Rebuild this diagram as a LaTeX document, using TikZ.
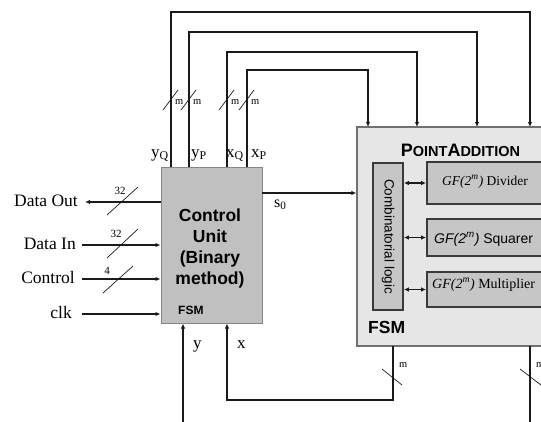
\documentclass[tikz,border=0pt]{standalone}
\usepackage{fontspec}
\setmainfont{Liberation Serif}
\setsansfont{Liberation Sans}
\usetikzlibrary{arrows.meta}
\definecolor{cufill}{HTML}{C0C0C0}
\definecolor{cuedge}{HTML}{858585}
\definecolor{pafill}{HTML}{E6E6E6}
\definecolor{paedge}{HTML}{707070}
\definecolor{infill}{HTML}{C6C6C6}
\definecolor{inedge}{HTML}{3A3A3A}
\definecolor{wire}{HTML}{1A1A1A}
\begin{document}
\begin{tikzpicture}[x=1pt,y=-1pt,
  conn/.style={line width=1.3pt, draw=wire},
  tip/.style={-{Latex[length=5pt,width=4.5pt]}},
  tipr/.style={{Latex[length=5pt,width=4.5pt]}-},
  tipb/.style={{Latex[length=5pt,width=4.5pt]}-{Latex[length=5pt,width=4.5pt]}},
  slash/.style={line width=0.7pt, draw=wire},
  lbl/.style={font=\fontsize{17.5}{20}\selectfont, inner sep=0pt},
  sig/.style={font=\fontsize{17}{20}\selectfont, inner sep=0pt},
  tiny/.style={font=\fontsize{10.5}{12}\selectfont, inner sep=0pt},
  cubox/.style={draw=cuedge, fill=cufill, line width=1pt, inner sep=0pt},
  pabox/.style={draw=paedge, fill=pafill, line width=1.3pt, inner sep=0pt},
  inbox/.style={draw=inedge, fill=infill, line width=1.8pt, inner sep=0pt}
]
\useasboundingbox (0,0) rectangle (541,421);
\clip (0,0) rectangle (541,421);

% main blocks
\node[cubox, minimum width=101pt, minimum height=156pt] (cu) at (211.5,245) {};
\node[pabox, minimum width=223pt, minimum height=219pt] (pa) at (468.5,236.5) {};
\node[inbox, rotate=-90, minimum width=147pt, minimum height=30pt,
      font=\sffamily\fontsize{13.5}{16}\selectfont] (comb) at (388,236.5) {Combinatorial logic};
\node[inbox, minimum width=153pt, minimum height=42pt] (div) at (503.5,183) {};
\node[inbox, minimum width=153pt, minimum height=37pt] (sq) at (503.5,237.5) {};
\node[inbox, minimum width=153pt, minimum height=35pt] (mul) at (503.5,289.5) {};

% texts in blocks
\node[align=center, inner sep=0pt, font=\sffamily\bfseries\fontsize{17.5}{21}\selectfont] (cut) at (210,248)
  {Control\\Unit\\(Binary\\method)};
\node[anchor=base west, inner sep=0pt, font=\sffamily\bfseries\fontsize{12}{14}\selectfont] (cufsm) at (178,314) {FSM};
\node[anchor=base, inner sep=0pt, font=\sffamily\bfseries] (pat) at (460.5,156)
  {{\fontsize{18}{20}\selectfont P}{\fontsize{14.5}{20}\selectfont OINT}{\fontsize{18}{20}\selectfont A}{\fontsize{14.5}{20}\selectfont DDITION}};
\node[anchor=base west, inner sep=0pt, font=\sffamily\bfseries\fontsize{17.5}{20}\selectfont] (pafsm) at (368,333) {FSM};
\node[anchor=base west, inner sep=0pt, font=\fontsize{13.5}{16}\selectfont] (divt) at (442,185)
  {\textit{GF(2\textsuperscript{m})} Divider};
\node[anchor=base west, inner sep=0pt, font=\sffamily\fontsize{14}{16}\selectfont] (sqt) at (434,243)
  {\textit{GF(2\textsuperscript{m})} Squarer};
\node[anchor=base west, inner sep=0pt, font=\fontsize{14}{16}\selectfont] (mult) at (432,288)
  {\textit{GF(2\textsuperscript{m})} Multiplier};

% internal double arrows
\draw[conn, tipb] (comb.north |- div.west) -- (div.west);
\draw[conn, tipb] (comb.north |- sq.west) -- (sq.west);
\draw[conn, tipb] (comb.north |- mul.west) -- (mul.west);

% top buses
\coordinate (cuYQ) at (171,167);
\coordinate (cuYP) at (189,167);
\coordinate (cuXQ) at (227,167);
\coordinate (cuXP) at (247,167);
\coordinate (paYQ) at (530,127);
\coordinate (paYP) at (477,127);
\coordinate (paXQ) at (417,127);
\coordinate (paXP) at (368,127);
\draw[conn, tip] (cuYQ) -- ++(0,-155) -| (paYQ);
\draw[conn, tip] (cuYP) -- ++(0,-135) -| (paYP);
\draw[conn, tip] (cuXQ) -- ++(0,-115) -| (paXQ);
\draw[conn, tip] (cuXP) -- ++(0,-97) -| (paXP);
\foreach \xx/\nm in {171/a,189/b,227/c,247/d} {
  \draw[slash] (\xx-8,110) -- (\xx+7,90);
  \node[tiny, anchor=base west] (m\nm) at (\xx+4,104) {m};
}
\node[sig, anchor=base east] (lyq) at (169,157) {y\textsubscript{Q}};
\node[sig, anchor=base west] (lyp) at (191,157) {y\textsubscript{P}};
\node[sig, anchor=base west] (lxq) at (226,157) {x\textsubscript{Q}};
\node[sig, anchor=base west] (lxp) at (251,157) {x\textsubscript{P}};

% left I/O
\coordinate (doT) at (85,202);
\coordinate (diS) at (82,245);
\coordinate (ctS) at (82,279);
\coordinate (ckS) at (82,314);
\node[lbl, anchor=base east] (ldo) at (78,206) {Data Out};
\node[lbl, anchor=base east] (ldi) at (76,249) {Data In};
\node[lbl, anchor=base east] (lct) at (75,283) {Control};
\node[lbl, anchor=base east] (lck) at (72,318) {clk};
\draw[conn, tipr] (doT) -- (doT -| cu.west);
\draw[conn, tip] (diS) -- (diS -| cu.west);
\draw[conn, tip] (ctS) -- (ctS -| cu.west);
\draw[conn, tip] (ckS) -- (ckS -| cu.west);
\draw[slash] (107,215) -- (138,187);
\draw[slash] (107,258) -- (138,229);
\draw[slash] (103,293) -- (133,266);
\node[tiny, font=\fontsize{11}{12}\selectfont] (n32a) at (120,191) {32};
\node[tiny, font=\fontsize{11}{12}\selectfont] (n32b) at (116,234) {32};
\node[tiny, font=\fontsize{11}{12}\selectfont] (n4) at (107,271) {4};

% s0
\coordinate (s0S) at (262,193);
\draw[conn, tip] (s0S) -- (s0S -| pa.west);
\node[anchor=base west, inner sep=0pt, font=\fontsize{16}{18}\selectfont] (ls0) at (274,207) {s\textsubscript{0}};

% bottom
\coordinate (yB) at (183,425);
\coordinate (xS) at (393,346);
\coordinate (xT) at (227,400);
\coordinate (rS) at (530,346);
\coordinate (rE) at (530,425);
\draw[conn, tip] (yB) -- (yB |- cu.south);
\draw[conn, tip] (xS) |- (xT) -- (xT |- cu.south);
\draw[conn] (rS) -- (rE);
\draw[slash] (382,369) -- (402,385);
\draw[slash] (520,369) -- (541,385);
\node[tiny, anchor=base west] (mbl) at (399,367) {m};
\node[tiny, anchor=base west] (mbr) at (536,367) {m};
\node[sig, anchor=base west] (ly) at (193,348) {y};
\node[sig, anchor=base west] (lx) at (237,348) {x};
\end{tikzpicture}
\end{document}
